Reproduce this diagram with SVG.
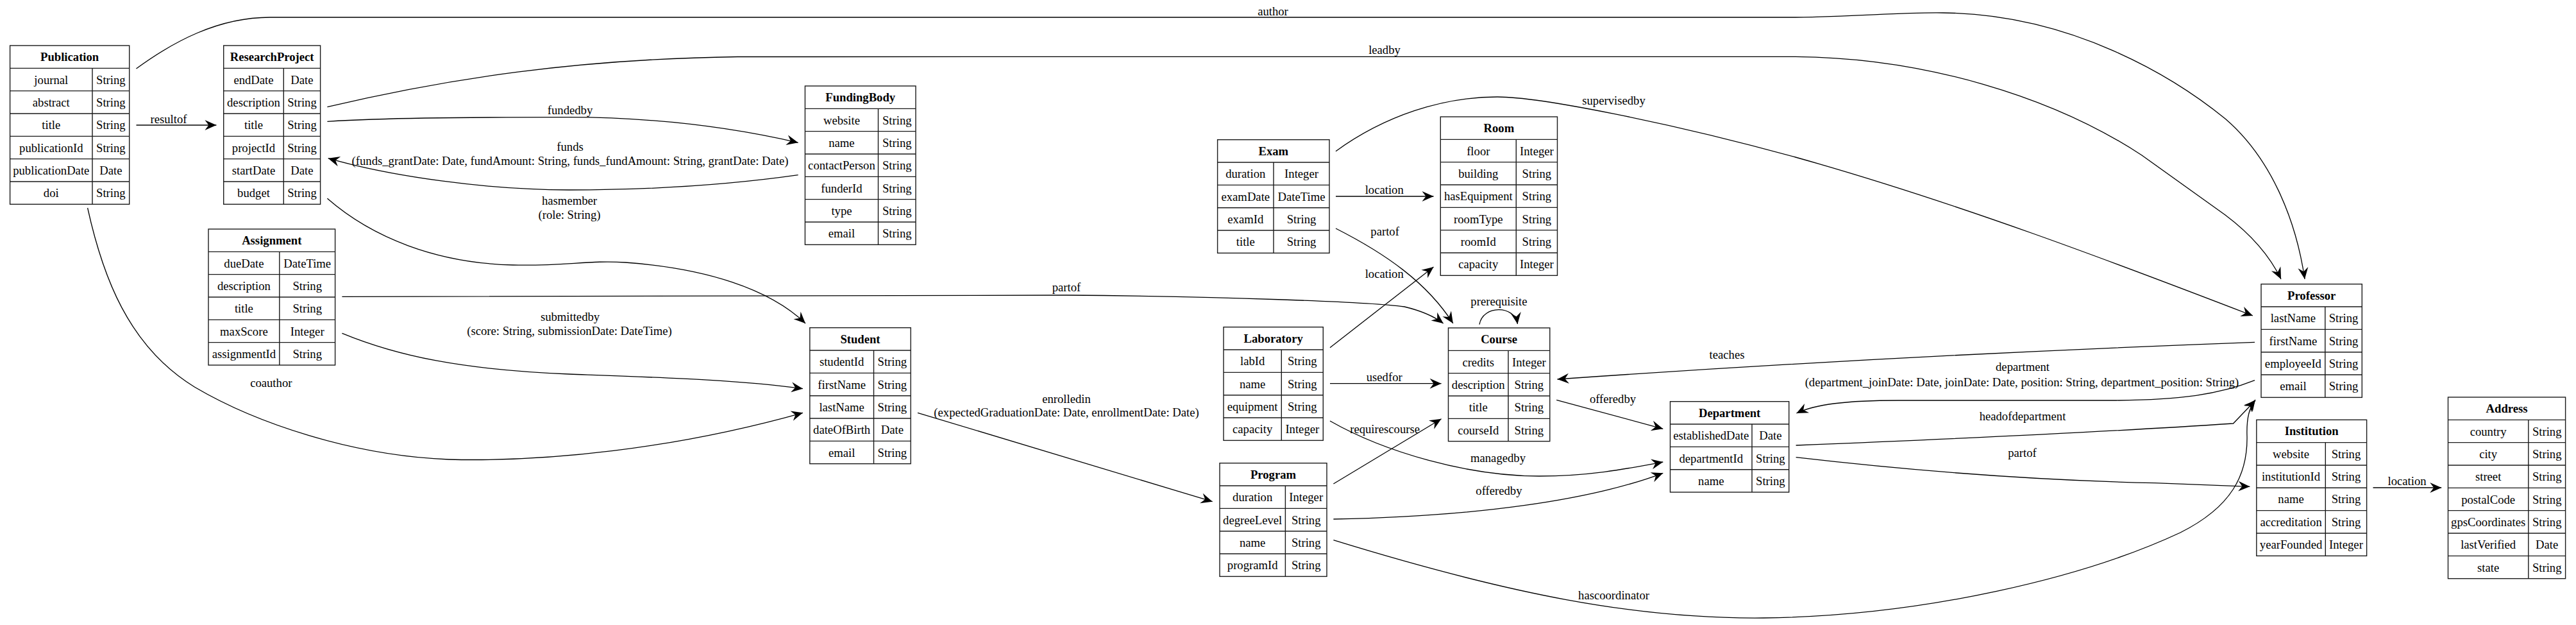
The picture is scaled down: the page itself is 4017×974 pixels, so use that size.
<svg xmlns="http://www.w3.org/2000/svg" width="4017" height="974" viewBox="0 0 4017 974">
<style>
.box{fill:#fff;stroke:#1a1a1a;stroke-width:1.4}
.ln{fill:none;stroke:#1a1a1a;stroke-width:1.4}
.t{font-family:"Liberation Serif","Times New Roman",serif;font-size:18.67px;text-anchor:middle;fill:#000}
.h{font-weight:bold}
.e{fill:none;stroke:#000;stroke-width:1.3;marker-end:url(#arr)}
</style>
<defs>
<marker id="arr" markerUnits="userSpaceOnUse" viewBox="-20 -10 22 20" refX="0" refY="0" markerWidth="22" markerHeight="20" orient="auto"><path d="M0,0L-18,-8L-12,0L-18,8Z" fill="#000"/></marker>
</defs>
<rect width="4017" height="974" fill="#fff"/>
<g id="connectors">
<path class="e" d="M212.5,107 C270,65 340,27 421,27 L2800,27 C2900,26 2960,19 3030,20 C3230,22 3390,120 3470,185 C3540,245 3580,340 3594,435"/>
<text class="t" x="1985" y="23.5">author</text>
<path class="e" d="M510.4,166.7 C700,122 900,92 1150,88.5 L2800,88.3 C3000,90 3200,150 3340,242 L3470,335 C3510,365 3540,400 3557,435"/>
<text class="t" x="2159" y="84">leadby</text>
<path class="e" d="M2083,235.7 C2160,180 2250,151 2335,151 C2400,151 2600,190 2800,245 C3050,315 3300,410 3513,492"/>
<text class="t" x="2516.5" y="163.3">supervisedby</text>
<path class="e" d="M510.4,189.3 C600,184 700,182.7 887,182.7 C1050,183 1170,205 1244.6,222.3"/>
<text class="t" x="889" y="178.3">fundedby</text>
<path class="e" d="M1244.6,272.7 C1130,289 1000,296 887,296 C760,296 610,275 511.7,246.7"/>
<text class="t" x="889" y="235">funds</text>
<text class="t" x="889" y="256.7">(funds_grantDate: Date, fundAmount: String, funds_fundAmount: String, grantDate: Date)</text>
<path class="e" d="M510.4,309.3 C580,370 680,410 800,413 C880,415 920,405 975,409 C1100,418 1200,450 1256,504"/>
<text class="t" x="888" y="319">hasmember</text>
<text class="t" x="888" y="340.7">(role: String)</text>
<path class="e" d="M533.4,462.3 L1663,460 C1900,462 2130,470 2190,478 C2215,484 2235,492 2250.7,504"/>
<text class="t" x="1663" y="454">partof</text>
<path class="e" d="M533.4,519.3 C620,555 720,576 887,583 C1050,589 1150,592 1252,605.7"/>
<text class="t" x="889" y="500">submittedby</text>
<text class="t" x="888" y="522">(score: String, submissionDate: DateTime)</text>
<path class="e" d="M136.6,324 C160,430 200,540 303.6,603.3 C400,660 550,710 700,716 C850,720 1050,700 1252,643.3"/>
<text class="t" x="422.8" y="603.3">coauthor</text>
<path class="e" d="M212.5,195 L337.4,195"/>
<text class="t" x="263" y="192">resultof</text>
<path class="e" d="M1431,643.3 L1890.7,781.7"/>
<text class="t" x="1663" y="627.7">enrolledin</text>
<text class="t" x="1663" y="649">(expectedGraduationDate: Date, enrollmentDate: Date)</text>
<path class="e" d="M2083,306 L2235.5,306"/>
<text class="t" x="2158.7" y="301.7">location</text>
<path class="e" d="M2083,356 C2160,395 2225,440 2265.9,504"/>
<text class="t" x="2159.6" y="367">partof</text>
<path class="e" d="M2074,541.7 L2235.5,416"/>
<text class="t" x="2158.7" y="432.7">location</text>
<path class="e" d="M2074,597.7 L2247.6,597.7"/>
<text class="t" x="2158.7" y="594">usedfor</text>
<path class="e" d="M2074,656 C2160,705 2290,742 2400,742 C2480,742 2540,730 2593.3,720"/>
<text class="t" x="2336" y="720">managedby</text>
<path class="e" d="M2079.4,754 L2247.6,652.7"/>
<text class="t" x="2159.6" y="674.5">requirescourse</text>
<path class="e" d="M2079.4,809 C2300,805 2480,780 2593.3,737.3"/>
<text class="t" x="2337.4" y="770.7">offeredby</text>
<path class="e" d="M2079.4,841.7 C2350,925 2550,965 2750,963 C3000,960 3250,900 3400,830 C3480,790 3505,740 3504,680 C3503,650 3508,635 3517,623"/>
<text class="t" x="2516.5" y="934">hascoordinator</text>
<path class="e" d="M3516,533.3 C3200,545 2800,565 2428.5,591"/>
<text class="t" x="2693" y="559.3">teaches</text>
<path class="e" d="M3516,592.7 C3460,615 3400,623 3300,624 L2960,624 C2880,624 2830,630 2801.4,644"/>
<text class="t" x="3154" y="578.3">department</text>
<text class="t" x="3153" y="601.7">(department_joinDate: Date, joinDate: Date, position: String, department_position: String)</text>
<path class="e" d="M2800.6,694 C3000,686 3300,672 3482.5,660 L3517,624"/>
<text class="t" x="3154" y="655">headofdepartment</text>
<path class="e" d="M2800.6,712.7 C2950,730 3150,748 3360,752.7 L3508.4,758.3"/>
<text class="t" x="3153.5" y="711.7">partof</text>
<path class="e" d="M3700.5,760 L3807.2,760"/>
<text class="t" x="3753.6" y="756">location</text>
<path class="e" d="M2427.2,623.3 L2593.3,668.3"/>
<text class="t" x="2515" y="628.3">offeredby</text>
<path class="e" d="M2307,505.7 C2312,475 2362,475 2366.5,505"/>
<text class="t" x="2337.4" y="476">prerequisite</text>
</g>

<g id="Publication" transform="translate(15.6,71)">
<rect class="box" width="186.1" height="247.33"/>
<path class="ln" d="M0,35.33H186.1M0,70.67H186.1M0,106H186.1M0,141.33H186.1M0,176.67H186.1M0,212H186.1M128.4,35.33V247.33"/>
<text class="t h" x="93.05" y="24.2">Publication</text>
<text class="t" x="64.2" y="59.5">journal</text><text class="t" x="157.25" y="59.5">String</text>
<text class="t" x="64.2" y="94.9">abstract</text><text class="t" x="157.25" y="94.9">String</text>
<text class="t" x="64.2" y="130.2">title</text><text class="t" x="157.25" y="130.2">String</text>
<text class="t" x="64.2" y="165.5">publicationId</text><text class="t" x="157.25" y="165.5">String</text>
<text class="t" x="64.2" y="200.9">publicationDate</text><text class="t" x="157.25" y="200.9">Date</text>
<text class="t" x="64.2" y="236.2">doi</text><text class="t" x="157.25" y="236.2">String</text>
</g>

<g id="ResearchProject" transform="translate(348.7,71)">
<rect class="box" width="150.9" height="247.33"/>
<path class="ln" d="M0,35.33H150.9M0,70.67H150.9M0,106H150.9M0,141.33H150.9M0,176.67H150.9M0,212H150.9M93.6,35.33V247.33"/>
<text class="t h" x="75.45" y="24.2">ResearchProject</text>
<text class="t" x="46.8" y="59.5">endDate</text><text class="t" x="122.25" y="59.5">Date</text>
<text class="t" x="46.8" y="94.9">description</text><text class="t" x="122.25" y="94.9">String</text>
<text class="t" x="46.8" y="130.2">title</text><text class="t" x="122.25" y="130.2">String</text>
<text class="t" x="46.8" y="165.5">projectId</text><text class="t" x="122.25" y="165.5">String</text>
<text class="t" x="46.8" y="200.9">startDate</text><text class="t" x="122.25" y="200.9">Date</text>
<text class="t" x="46.8" y="236.2">budget</text><text class="t" x="122.25" y="236.2">String</text>
</g>

<g id="Assignment" transform="translate(325,357)">
<rect class="box" width="197.6" height="212"/>
<path class="ln" d="M0,35.33H197.6M0,70.67H197.6M0,106H197.6M0,141.33H197.6M0,176.67H197.6M110.8,35.33V212"/>
<text class="t h" x="98.8" y="24.2">Assignment</text>
<text class="t" x="55.4" y="59.5">dueDate</text><text class="t" x="154.2" y="59.5">DateTime</text>
<text class="t" x="55.4" y="94.9">description</text><text class="t" x="154.2" y="94.9">String</text>
<text class="t" x="55.4" y="130.2">title</text><text class="t" x="154.2" y="130.2">String</text>
<text class="t" x="55.4" y="165.5">maxScore</text><text class="t" x="154.2" y="165.5">Integer</text>
<text class="t" x="55.4" y="200.9">assignmentId</text><text class="t" x="154.2" y="200.9">String</text>
</g>

<g id="FundingBody" transform="translate(1255.4,134)">
<rect class="box" width="172.6" height="247.33"/>
<path class="ln" d="M0,35.33H172.6M0,70.67H172.6M0,106H172.6M0,141.33H172.6M0,176.67H172.6M0,212H172.6M114.1,35.33V247.33"/>
<text class="t h" x="86.3" y="24.2">FundingBody</text>
<text class="t" x="57.05" y="59.5">website</text><text class="t" x="143.35" y="59.5">String</text>
<text class="t" x="57.05" y="94.9">name</text><text class="t" x="143.35" y="94.9">String</text>
<text class="t" x="57.05" y="130.2">contactPerson</text><text class="t" x="143.35" y="130.2">String</text>
<text class="t" x="57.05" y="165.5">funderId</text><text class="t" x="143.35" y="165.5">String</text>
<text class="t" x="57.05" y="200.9">type</text><text class="t" x="143.35" y="200.9">String</text>
<text class="t" x="57.05" y="236.2">email</text><text class="t" x="143.35" y="236.2">String</text>
</g>

<g id="Student" transform="translate(1262.8,510.7)">
<rect class="box" width="157.4" height="212"/>
<path class="ln" d="M0,35.33H157.4M0,70.67H157.4M0,106H157.4M0,141.33H157.4M0,176.67H157.4M99.7,35.33V212"/>
<text class="t h" x="78.7" y="24.2">Student</text>
<text class="t" x="49.85" y="59.5">studentId</text><text class="t" x="128.55" y="59.5">String</text>
<text class="t" x="49.85" y="94.9">firstName</text><text class="t" x="128.55" y="94.9">String</text>
<text class="t" x="49.85" y="130.2">lastName</text><text class="t" x="128.55" y="130.2">String</text>
<text class="t" x="49.85" y="165.5">dateOfBirth</text><text class="t" x="128.55" y="165.5">Date</text>
<text class="t" x="49.85" y="200.9">email</text><text class="t" x="128.55" y="200.9">String</text>
</g>

<g id="Exam" transform="translate(1898.6,217.7)">
<rect class="box" width="174.4" height="176.67"/>
<path class="ln" d="M0,35.33H174.4M0,70.67H174.4M0,106H174.4M0,141.33H174.4M87.4,35.33V176.67"/>
<text class="t h" x="87.2" y="24.2">Exam</text>
<text class="t" x="43.7" y="59.5">duration</text><text class="t" x="130.9" y="59.5">Integer</text>
<text class="t" x="43.7" y="94.9">examDate</text><text class="t" x="130.9" y="94.9">DateTime</text>
<text class="t" x="43.7" y="130.2">examId</text><text class="t" x="130.9" y="130.2">String</text>
<text class="t" x="43.7" y="165.5">title</text><text class="t" x="130.9" y="165.5">String</text>
</g>

<g id="Laboratory" transform="translate(1908,509.7)">
<rect class="box" width="155.3" height="176.67"/>
<path class="ln" d="M0,35.33H155.3M0,70.67H155.3M0,106H155.3M0,141.33H155.3M90.3,35.33V176.67"/>
<text class="t h" x="77.65" y="24.2">Laboratory</text>
<text class="t" x="45.15" y="59.5">labId</text><text class="t" x="122.8" y="59.5">String</text>
<text class="t" x="45.15" y="94.9">name</text><text class="t" x="122.8" y="94.9">String</text>
<text class="t" x="45.15" y="130.2">equipment</text><text class="t" x="122.8" y="130.2">String</text>
<text class="t" x="45.15" y="165.5">capacity</text><text class="t" x="122.8" y="165.5">Integer</text>
</g>

<g id="Program" transform="translate(1902,721.7)">
<rect class="box" width="167" height="176.67"/>
<path class="ln" d="M0,35.33H167M0,70.67H167M0,106H167M0,141.33H167M102.4,35.33V176.67"/>
<text class="t h" x="83.5" y="24.2">Program</text>
<text class="t" x="51.2" y="59.5">duration</text><text class="t" x="134.7" y="59.5">Integer</text>
<text class="t" x="51.2" y="94.9">degreeLevel</text><text class="t" x="134.7" y="94.9">String</text>
<text class="t" x="51.2" y="130.2">name</text><text class="t" x="134.7" y="130.2">String</text>
<text class="t" x="51.2" y="165.5">programId</text><text class="t" x="134.7" y="165.5">String</text>
</g>

<g id="Room" transform="translate(2246.3,182)">
<rect class="box" width="182.2" height="247.33"/>
<path class="ln" d="M0,35.33H182.2M0,70.67H182.2M0,106H182.2M0,141.33H182.2M0,176.67H182.2M0,212H182.2M118,35.33V247.33"/>
<text class="t h" x="91.1" y="24.2">Room</text>
<text class="t" x="59" y="59.5">floor</text><text class="t" x="150.1" y="59.5">Integer</text>
<text class="t" x="59" y="94.9">building</text><text class="t" x="150.1" y="94.9">String</text>
<text class="t" x="59" y="130.2">hasEquipment</text><text class="t" x="150.1" y="130.2">String</text>
<text class="t" x="59" y="165.5">roomType</text><text class="t" x="150.1" y="165.5">String</text>
<text class="t" x="59" y="200.9">roomId</text><text class="t" x="150.1" y="200.9">String</text>
<text class="t" x="59" y="236.2">capacity</text><text class="t" x="150.1" y="236.2">Integer</text>
</g>

<g id="Course" transform="translate(2258.5,511)">
<rect class="box" width="158.3" height="176.67"/>
<path class="ln" d="M0,35.33H158.3M0,70.67H158.3M0,106H158.3M0,141.33H158.3M93.5,35.33V176.67"/>
<text class="t h" x="79.15" y="24.2">Course</text>
<text class="t" x="46.75" y="59.5">credits</text><text class="t" x="125.9" y="59.5">Integer</text>
<text class="t" x="46.75" y="94.9">description</text><text class="t" x="125.9" y="94.9">String</text>
<text class="t" x="46.75" y="130.2">title</text><text class="t" x="125.9" y="130.2">String</text>
<text class="t" x="46.75" y="165.5">courseId</text><text class="t" x="125.9" y="165.5">String</text>
</g>

<g id="Department" transform="translate(2604.5,625.7)">
<rect class="box" width="185.2" height="141.33"/>
<path class="ln" d="M0,35.33H185.2M0,70.67H185.2M0,106H185.2M127.5,35.33V141.33"/>
<text class="t h" x="92.6" y="24.2">Department</text>
<text class="t" x="63.75" y="59.5">establishedDate</text><text class="t" x="156.35" y="59.5">Date</text>
<text class="t" x="63.75" y="94.9">departmentId</text><text class="t" x="156.35" y="94.9">String</text>
<text class="t" x="63.75" y="130.2">name</text><text class="t" x="156.35" y="130.2">String</text>
</g>

<g id="Professor" transform="translate(3526,442.7)">
<rect class="box" width="157.3" height="176.67"/>
<path class="ln" d="M0,35.33H157.3M0,70.67H157.3M0,106H157.3M0,141.33H157.3M99.8,35.33V176.67"/>
<text class="t h" x="78.65" y="24.2">Professor</text>
<text class="t" x="49.9" y="59.5">lastName</text><text class="t" x="128.55" y="59.5">String</text>
<text class="t" x="49.9" y="94.9">firstName</text><text class="t" x="128.55" y="94.9">String</text>
<text class="t" x="49.9" y="130.2">employeeId</text><text class="t" x="128.55" y="130.2">String</text>
<text class="t" x="49.9" y="165.5">email</text><text class="t" x="128.55" y="165.5">String</text>
</g>

<g id="Institution" transform="translate(3518.8,654.3)">
<rect class="box" width="171.8" height="212"/>
<path class="ln" d="M0,35.33H171.8M0,70.67H171.8M0,106H171.8M0,141.33H171.8M0,176.67H171.8M107.5,35.33V212"/>
<text class="t h" x="85.9" y="24.2">Institution</text>
<text class="t" x="53.75" y="59.5">website</text><text class="t" x="139.65" y="59.5">String</text>
<text class="t" x="53.75" y="94.9">institutionId</text><text class="t" x="139.65" y="94.9">String</text>
<text class="t" x="53.75" y="130.2">name</text><text class="t" x="139.65" y="130.2">String</text>
<text class="t" x="53.75" y="165.5">accreditation</text><text class="t" x="139.65" y="165.5">String</text>
<text class="t" x="53.75" y="200.9">yearFounded</text><text class="t" x="139.65" y="200.9">Integer</text>
</g>

<g id="Address" transform="translate(3817.5,619)">
<rect class="box" width="183.1" height="282.67"/>
<path class="ln" d="M0,35.33H183.1M0,70.67H183.1M0,106H183.1M0,141.33H183.1M0,176.67H183.1M0,212H183.1M0,247.33H183.1M125.3,35.33V282.67"/>
<text class="t h" x="91.55" y="24.2">Address</text>
<text class="t" x="62.65" y="59.5">country</text><text class="t" x="154.2" y="59.5">String</text>
<text class="t" x="62.65" y="94.9">city</text><text class="t" x="154.2" y="94.9">String</text>
<text class="t" x="62.65" y="130.2">street</text><text class="t" x="154.2" y="130.2">String</text>
<text class="t" x="62.65" y="165.5">postalCode</text><text class="t" x="154.2" y="165.5">String</text>
<text class="t" x="62.65" y="200.9">gpsCoordinates</text><text class="t" x="154.2" y="200.9">String</text>
<text class="t" x="62.65" y="236.2">lastVerified</text><text class="t" x="154.2" y="236.2">Date</text>
<text class="t" x="62.65" y="271.5">state</text><text class="t" x="154.2" y="271.5">String</text>
</g>
</svg>
